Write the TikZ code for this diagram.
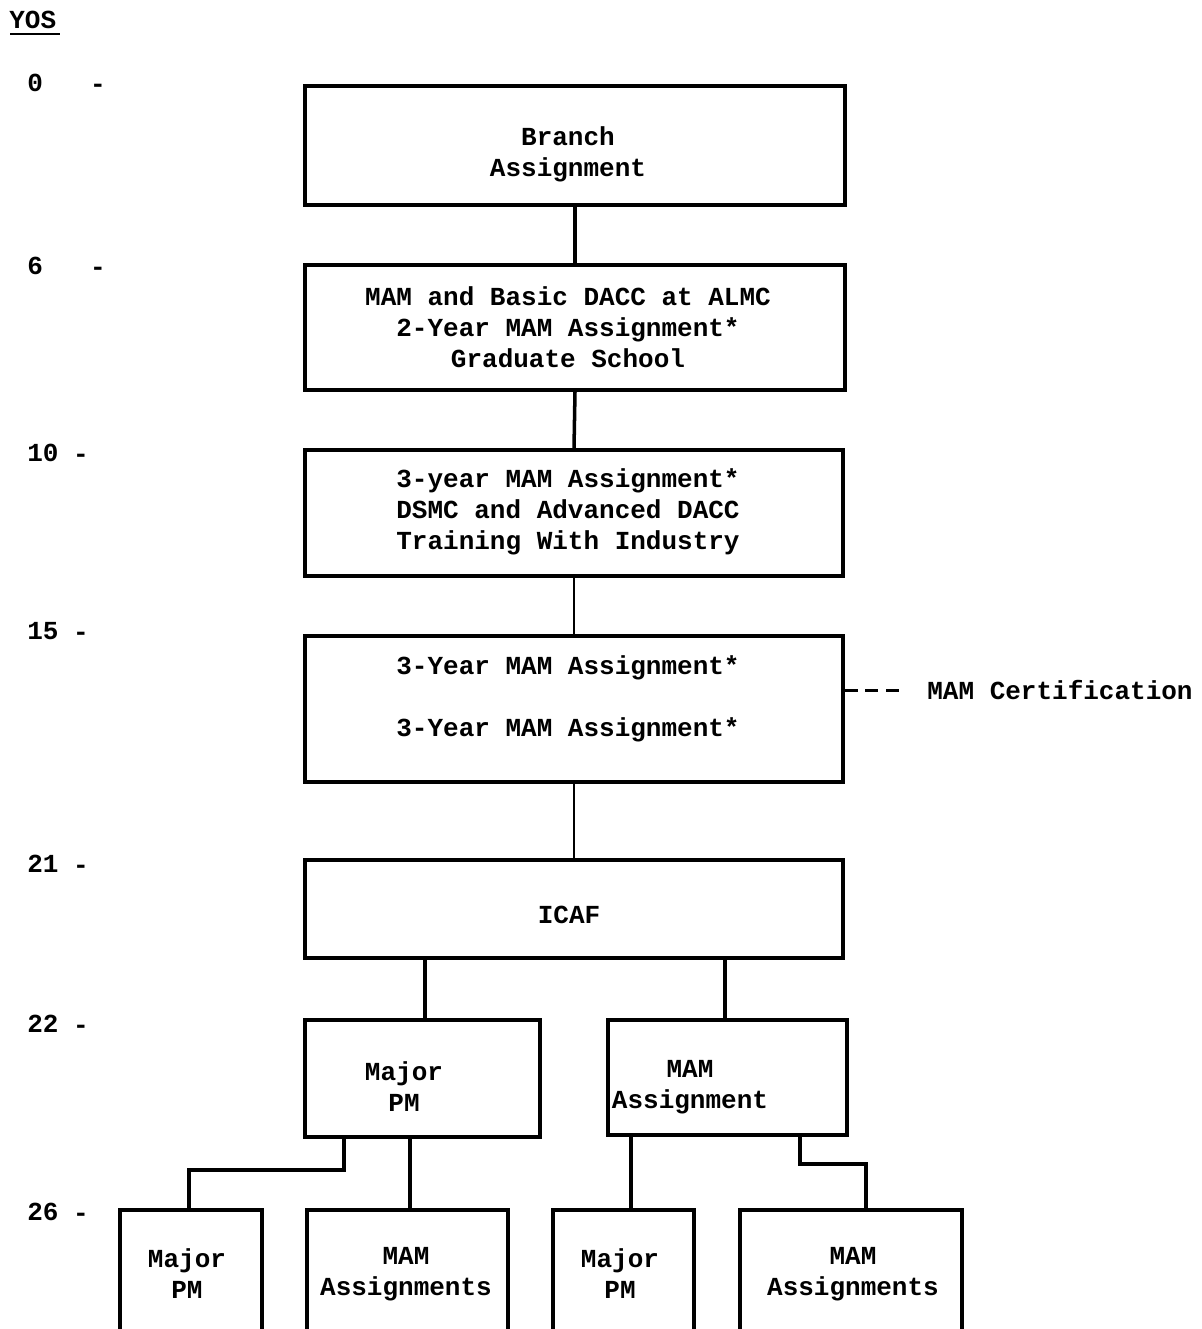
\documentclass[tikz,border=0pt]{standalone}
\usepackage{fontspec}
\setmainfont{Liberation Mono}
\usepackage{tikz}
\usetikzlibrary{positioning,calc}
\newcommand{\pxu}{0.02cm}
\tikzset{
  box/.style 2 args={draw, line width=1.8pt, minimum width=#1*\pxu, minimum height=#2*\pxu, inner sep=0pt},
  txt/.style={inner sep=0pt, align=center, font=\fontsize{14.8pt}{17.6pt}\selectfont\bfseries},
  link/.style={line width=2pt},
  thinlink/.style={line width=0.9pt},
}

\begin{document}
\begin{tikzpicture}[x=0.02cm, y=-0.02cm]
			\useasboundingbox (0,0) rectangle (1202,1329);
			\clip (0,0) rectangle (1202,1329);
			
			% Years of service axis
			\node[txt, anchor=base west] (yos) at (9,28) {YOS};
			\draw[line width=1.5pt] (10,34) -- (60,34);
			\foreach \lab/\y/\dx in {0/82/98, 6/265/98, 10/452/81, 15/630/81, 21/863/81, 22/1023/81, 26/1211/81} {
				\node[txt, anchor=base west] (lab\lab) at (27,\y+9) {\lab};
				\node[txt, anchor=base] (tick\lab) at (\dx,\y+10) {-};
			}
			
			% Main column
			\node[box={540}{119}] (branch) at (575,145.5) {};
			\node[txt] (branchtext) at (568,154) {Branch\\Assignment};
			
			\node[box={540}{125}] (basic) at (575,327.5) {};
			\node[txt] (basictext) at (568,327) {MAM and Basic DACC at ALMC\\2-Year MAM Assignment*\\Graduate School};
			
			\node[box={538}{126}] (advanced) at (574,513) {};
			\node[txt] (advancedtext) at (568,511.5) {3-year MAM Assignment*\\DSMC and Advanced DACC\\Training With Industry};
			
			\node[box={538}{146}] (twotours) at (574,709) {};
			\node[txt] (twotourstext) at (568,699) {3-Year MAM Assignment*\\[17.6pt]3-Year MAM Assignment*};
			
			\node[box={538}{98}] (icaf) at (574,909) {};
			\node[txt] (icaftext) at (569,915) {ICAF};
			
			% Certification mark
			\node[txt, anchor=west] (cert) at (927,690) {MAM Certification};
			\draw[line width=1.7pt, dash pattern=on 7.4pt off 4.5pt] (twotours.east |- cert.west) -- ($(cert.west)+(-22,0)$);
			
			% Split after ICAF
			\node[box={235}{117}] (majorpm) at (422.5,1078.5) {};
			\node[txt] (majorpmtext) at (404,1087) {Major\\PM};
			\node[box={239}{115}] (mamassign) at (727.5,1077.5) {};
			\node[txt] (mamassigntext) at (690,1087) {MAM\\Assignment};
			
			% Bottom row (cut off at the page edge)
			\node[box={142}{200}] (pmleft) at (191,1310) {};
			\node[txt] (pmlefttext) at (187,1274) {Major\\PM};
			\node[box={201}{200}] (mamleft) at (407.5,1310) {};
			\node[txt] (mamlefttext) at (406,1274) {MAM\\Assignments};
			\node[box={141}{200}] (pmright) at (623.5,1310) {};
			\node[txt] (pmrighttext) at (620,1274) {Major\\PM};
			\node[box={222}{200}] (mamright) at (851,1310) {};
			\node[txt] (mamrighttext) at (853,1274) {MAM\\Assignments};
			
			% Connectors
			\draw[link] (branch.south) -- (basic.north);
			\draw[link] (basic.south) -- (advanced.north);
			\draw[thinlink] (advanced.south) -- (twotours.north);
			\draw[thinlink] (twotours.south) -- (icaf.north);
			\coordinate (tapa) at ($(majorpm.north)+(2.5,0)$);
			\draw[link] (tapa |- icaf.south) -- (tapa);
			\coordinate (tapb) at ($(mamassign.north)+(-2.5,0)$);
			\draw[link] (tapb |- icaf.south) -- (tapb);
			
			\coordinate (elbowa) at (344,1170);
			\draw[link] (elbowa |- majorpm.south) -- (elbowa) -| ($(pmleft.north)+(-2,0)$);
			\coordinate (tapc) at ($(mamleft.north)+(2.5,0)$);
			\draw[link] (tapc |- majorpm.south) -- (tapc);
			\coordinate (tapd) at ($(pmright.north)+(7.5,0)$);
			\draw[link] (tapd |- mamassign.south) -- (tapd);
			\coordinate (elbowb) at (800,1164);
			\draw[link] (elbowb |- mamassign.south) -- (elbowb) -| ($(mamright.north)+(15,0)$);
		\end{tikzpicture}
\end{document}
